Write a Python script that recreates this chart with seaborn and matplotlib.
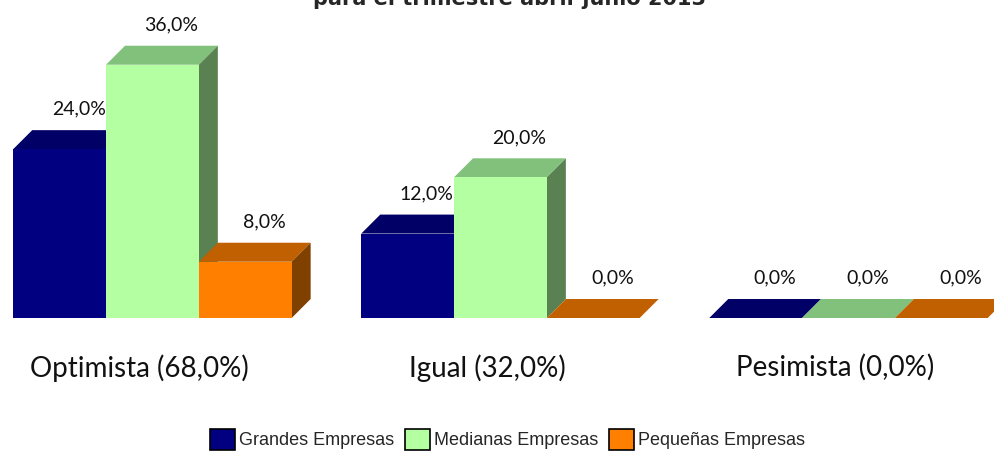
import matplotlib
matplotlib.use('Agg')
import matplotlib.pyplot as plt
from matplotlib.patches import Polygon, Patch
import pandas as pd
import seaborn as sns

# datos del grafico
categorias = ['Optimista (68,0%)', 'Igual (32,0%)', 'Pesimista (0,0%)']
series = ['Grandes Empresas', 'Medianas Empresas', 'Pequeñas Empresas']
grandes = [24.0, 12.0, 0.0]
medianas = [36.0, 20.0, 0.0]
pequenas = [8.0, 0.0, 0.0]
titulo = 'para el trimestre abril-junio 2013'

# colores: frente, cara superior, cara lateral
frente = ['#000080', '#B3FFA1', '#FF8000']
arriba = ['#000066', '#82C17B', '#C06000']
lado = ['#000044', '#5A8152', '#804000']

df = pd.DataFrame({
    'categoria': categorias * 3,
    'serie': [s for s in series for _ in categorias],
    'valor': grandes + medianas + pequenas,
})

sns.set_style('white')
plt.rcParams['font.family'] = ['Lato', 'DejaVu Sans']

fig = plt.figure(figsize=(9.95, 4.51), dpi=100)
ax = fig.add_axes([0, 0.2949, 1, 0.624])
sns.barplot(data=df, x='categoria', y='valor', hue='serie', hue_order=series,
            palette=frente, width=0.8, saturation=1, linewidth=0,
            legend=False, ax=ax)

ax.set_xlim(-0.438, 2.421)
ax.set_ylim(0, 40)

# profundidad del efecto 3D (en unidades de datos)
dx = 19 / 348
dy = 19 / 7.04

for j, cont in enumerate(ax.containers):
    for bar in cont:
        x0 = bar.get_x()
        x1 = x0 + bar.get_width()
        h = bar.get_height()
        z = 2 + 0.1 * j
        bar.set_zorder(z)
        top = Polygon([(x0, h), (x1, h), (x1 + dx, h + dy), (x0 + dx, h + dy)],
                      closed=True, facecolor=arriba[j], edgecolor='none', zorder=z - 0.05)
        side = Polygon([(x1, 0), (x1 + dx, dy), (x1 + dx, h + dy), (x1, h)],
                       closed=True, facecolor=lado[j], edgecolor='none', zorder=z - 0.05)
        ax.add_patch(top)
        ax.add_patch(side)
        etiqueta = f'{h:.1f}%'.replace('.', ',')
        ax.annotate(etiqueta, (x0 + bar.get_width() / 2 + dx, h + dy),
                    xytext=(0, 15), textcoords='offset points',
                    ha='center', va='center', fontsize=14,
                    color='#111111', zorder=1)

ax.set_xticks([i - 13 / 348 for i in range(len(categorias))])
ax.set_xticklabels(categorias, fontsize=20, color='#111111')
ax.tick_params(axis='x', length=0, pad=26)
ax.set_yticks([])
ax.set_xlabel('')
ax.set_ylabel('')
sns.despine(ax=ax, left=True, bottom=True)

handles = [Patch(facecolor=c, edgecolor='black', linewidth=1.2) for c in frente]
fig.legend(handles, series, loc='center', bbox_to_anchor=(0.51, 0.026), ncol=3,
           frameon=False, handlelength=1.4, handleheight=1.4, handletextpad=0.2,
           columnspacing=0.6,
           prop={'family': ['Liberation Sans'], 'size': 13})

fig.text(0.512, 1 - 5 / 451, titulo, ha='center', va='baseline',
         fontsize=15, fontweight='bold', family=['DejaVu Sans'])

fig.savefig('out.png', dpi=100)
